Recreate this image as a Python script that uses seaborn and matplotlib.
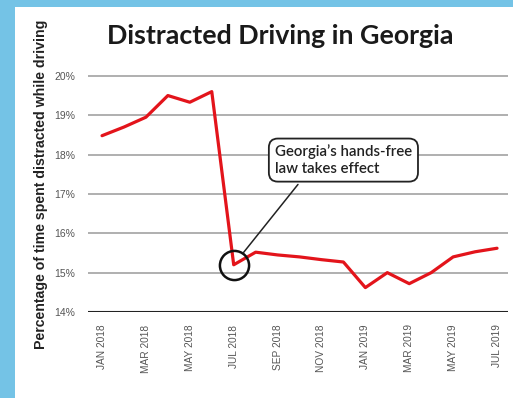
import matplotlib
matplotlib.use("Agg")
import matplotlib.pyplot as plt
import seaborn as sns
import pandas as pd
from matplotlib.patches import Rectangle

months = ["JAN 2018", "FEB 2018", "MAR 2018", "APR 2018", "MAY 2018", "JUN 2018",
          "JUL 2018", "AUG 2018", "SEP 2018", "OCT 2018", "NOV 2018", "DEC 2018",
          "JAN 2019", "FEB 2019", "MAR 2019", "APR 2019", "MAY 2019", "JUN 2019",
          "JUL 2019"]
values = [18.48, 18.7, 18.95, 19.5, 19.33, 19.6,
          15.2, 15.52, 15.45, 15.4, 15.33, 15.27,
          14.62, 15.0, 14.72, 15.0, 15.4, 15.53, 15.62]
yticks = [14, 15, 16, 17, 18, 19, 20]
ytick_labels = ["14%", "15%", "16%", "17%", "18%", "19%", "20%"]
title = "Distracted Driving in Georgia"
ylabel = "Percentage of time spent distracted while driving"
note = "Georgia’s hands-free\nlaw takes effect"
law_month = "JUL 2018"

df = pd.DataFrame({"idx": range(len(months)), "month": months, "value": values})

sns.set_theme(style="white")
W, H = 513, 398
fig = plt.figure(figsize=(W / 100, H / 100), dpi=100)
fig.patch.set_facecolor("#74C3E6")
fig.add_artist(Rectangle((15 / W, 0.0), 1 - 15 / W, 1 - 7 / H, transform=fig.transFigure,
                         facecolor="white", edgecolor="none", zorder=0))

ax = fig.add_axes([88 / W, 1 - 312 / H, (508 - 88) / W, (312 - 68) / H])
ax.set_facecolor("none")
sns.lineplot(data=df, x="idx", y="value", ax=ax, color="#E3141B", linewidth=2.3, zorder=3)

ax.set_xlim(-0.64, 18.5)
ax.set_ylim(14, 20.2)
ax.set_yticks(yticks)
ax.set_yticklabels(ytick_labels, fontsize=7.5, color="#555555", family="Liberation Sans")
ax.tick_params(axis="y", length=0, pad=9)
for y in yticks:
    if y == 14:
        ax.axhline(y, color="#222222", linewidth=1.5, zorder=2)
    else:
        ax.axhline(y, color="#9a9a9a", linewidth=1.1, zorder=1)

ax.set_xticks(df["idx"][::2])
ax.set_xticklabels(df["month"][::2], rotation=90, fontsize=7.3, color="#555555",
                   family="Liberation Sans")
ax.tick_params(axis="x", length=0, pad=9)
for s in ax.spines.values():
    s.set_visible(False)
ax.set_xlabel("")
ax.set_ylabel("")

fig.text(280 / W, 1 - 36 / H, title, ha="center", va="center", fontsize=19.3,
         fontweight="bold", family="Lato", color="#1a1a1a")
fig.text(41 / W, 1 - 184 / H, ylabel, rotation=90, ha="center", va="center",
         fontsize=10.2, fontweight="bold", family="Liberation Sans", color="#222222")

li = months.index(law_month)
ax.plot([li], [values[li]], marker="o", markersize=21, markerfacecolor="none",
        markeredgecolor="#111111", markeredgewidth=1.8, zorder=4)
ax.annotate(note, xy=(li, values[li]), xytext=(11.0, 17.86), ha="center", va="center",
            fontsize=10.8, family="Lato", fontweight="semibold", color="#222222",
            multialignment="left",
            bbox=dict(boxstyle="round,pad=0.4,rounding_size=0.6", facecolor="white",
                      edgecolor="#222222", linewidth=1.3),
            arrowprops=dict(arrowstyle="-", color="#222222", linewidth=1.1,
                            shrinkB=11, relpos=(0.22, 0.0)),
            zorder=5)

fig.savefig("out.png", dpi=100)
